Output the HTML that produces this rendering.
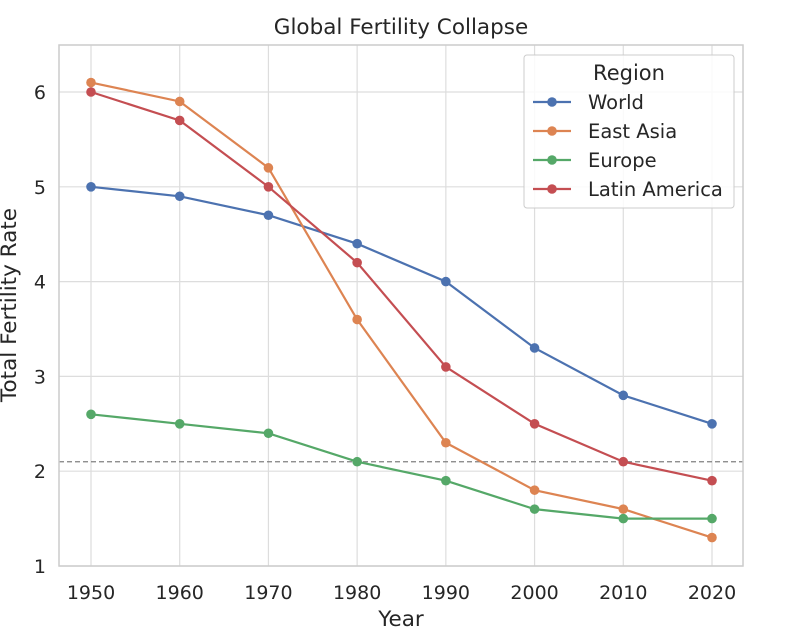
<!DOCTYPE html>
<html><head><meta charset="utf-8"><style>
body{margin:0;background:#fff}
svg{font-family:"DejaVu Sans","Liberation Sans",sans-serif;display:block}
</style></head><body>
<svg id="chart" width="788" height="642">
<rect x="0" y="0" width="788" height="642" fill="#fff"/>
<g id="grid"></g>
<g id="marks"></g>
<rect x="59" y="45" width="684" height="521" fill="none" stroke="#cccccc" stroke-width="1.5"/>
<text x="401" y="34" text-anchor="middle" font-size="21.5" fill="#262626">Global Fertility Collapse</text>
<text x="401" y="626" text-anchor="middle" font-size="21.5" fill="#262626">Year</text>
<text transform="translate(16,305) rotate(-90)" text-anchor="middle" font-size="21.5" fill="#262626">Total Fertility Rate</text>
<g id="legend">
<rect x="524" y="55" width="210" height="153" rx="3" fill="#fff" fill-opacity="0.85" stroke="#cccccc"/>
<text x="629" y="80" text-anchor="middle" font-size="21" fill="#262626">Region</text>
</g>
</svg>
<script>
const years=[1950,1960,1970,1980,1990,2000,2010,2020];
const seriesNames=["World","East Asia","Europe","Latin America"];
const world=[5.0,4.9,4.7,4.4,4.0,3.3,2.8,2.5];
const eastAsia=[6.1,5.9,5.2,3.6,2.3,1.8,1.6,1.3];
const europe=[2.6,2.5,2.4,2.1,1.9,1.6,1.5,1.5];
const latinAmerica=[6.0,5.7,5.0,4.2,3.1,2.5,2.1,1.9];
const replacementLevel=2.1;
const yTicks=[1,2,3,4,5,6];
const colors=["#4c72b0","#dd8452","#55a868","#c44e52"];
const NS="http://www.w3.org/2000/svg";
const xs=v=>91+(v-1950)*(712-91)/70;
const ys=v=>566-(v-1)*94.8;
function mk(tag,attrs,parent){const e=document.createElementNS(NS,tag);for(const k in attrs)e.setAttribute(k,attrs[k]);parent.appendChild(e);return e;}
const grid=document.getElementById('grid'),marks=document.getElementById('marks'),svg=document.getElementById('chart');
years.forEach(y=>{
 const l=mk('line',{x1:xs(y),x2:xs(y),y1:45,y2:566,stroke:'#dddddd','stroke-width':1.2},grid);
 
 
 const t=mk('text',{x:xs(y),y:599,'text-anchor':'middle','font-size':19,fill:'#262626'},svg);
 t.textContent=y;
 
 
});
yTicks.forEach(v=>{
 const l=mk('line',{x1:59,x2:743,y1:ys(v),y2:ys(v),stroke:'#dddddd','stroke-width':1.2},grid);
 
 
 const t=mk('text',{x:46,y:ys(v)+7,'text-anchor':'end','font-size':19,fill:'#262626'},svg);
 t.textContent=v;
 
 
});
const rl=mk('line',{x1:59,x2:743,y1:ys(replacementLevel),y2:ys(replacementLevel),stroke:'#808080','stroke-width':1.3,'stroke-dasharray':'5,3'},marks);


const data=[world,eastAsia,europe,latinAmerica];
data.forEach((s,i)=>{
 const g=mk('g',{},marks);
 
 
 mk('polyline',{points:s.map((v,j)=>xs(years[j])+','+ys(v)).join(' '),fill:'none',stroke:colors[i],'stroke-width':2.2},g);
 s.forEach((v,j)=>{
  const c=mk('circle',{cx:xs(years[j]),cy:ys(v),r:4.8,fill:colors[i]},g);
  
  
 });
});
const lg=document.getElementById('legend');
seriesNames.forEach((n,i)=>{
 const y=102+i*29;
 const g=mk('g',{},lg);
 
 
 mk('line',{x1:533,x2:571,y1:y,y2:y,stroke:colors[i],'stroke-width':2.2},g);
 mk('circle',{cx:552,cy:y,r:4.8,fill:colors[i]},g);
 const t=mk('text',{x:588,y:y+7,'font-size':19.5,fill:'#262626'},g);
 t.textContent=n;
});
</script>
</body></html>
